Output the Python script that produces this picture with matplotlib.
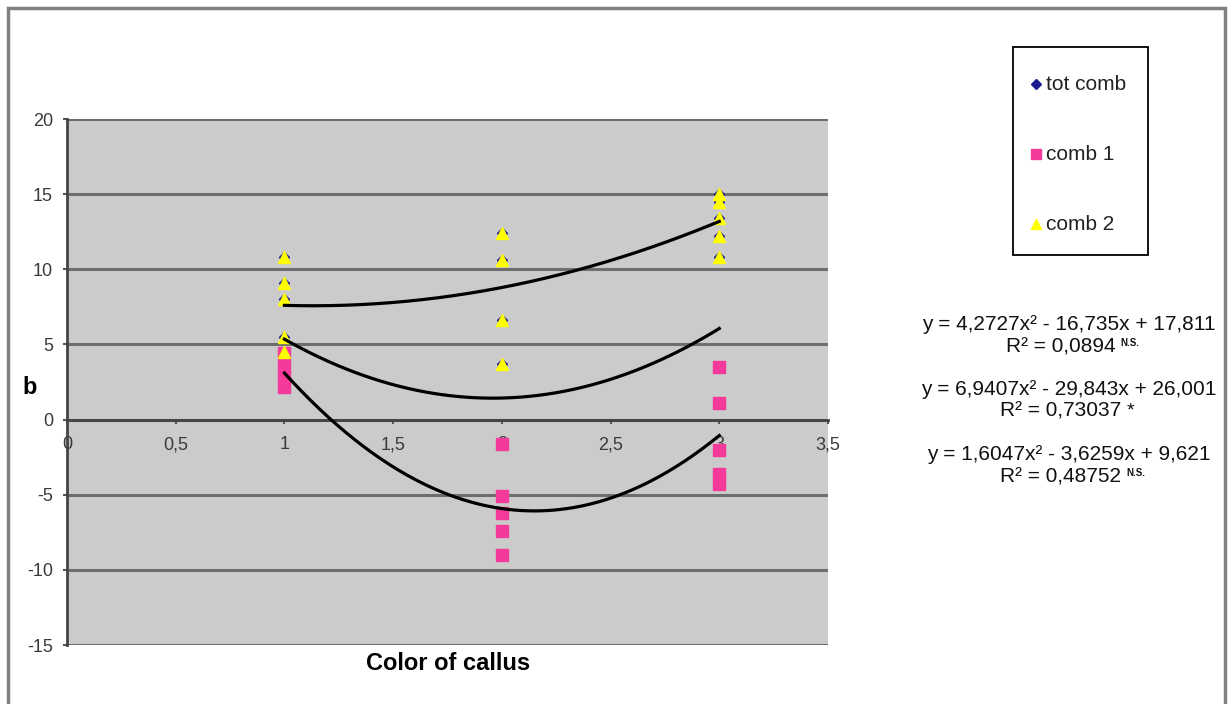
import matplotlib
matplotlib.use("Agg")
import matplotlib.pyplot as plt
import numpy as np
from matplotlib.lines import Line2D
from matplotlib.patches import Rectangle

plt.rcParams['font.family'] = ['Liberation Sans', 'DejaVu Sans']

# ---- data ----
comb1_x = [1, 1, 1, 1, 2, 2, 2, 2, 2, 3, 3, 3, 3, 3]
comb1_y = [4.4, 3.6, 2.9, 2.2, -1.6, -5.1, -6.2, -7.4, -9.0, 3.5, 1.1, -2.0, -3.6, -4.3]
comb2_x = [1, 1, 1, 1, 1, 2, 2, 2, 2, 3, 3, 3, 3, 3]
comb2_y = [10.8, 9.1, 8.0, 5.5, 4.5, 12.4, 10.6, 6.6, 3.7, 15.0, 14.5, 13.4, 12.2, 10.8]
tot_x = comb2_x + comb1_x
tot_y = comb2_y + comb1_y

# trendline coefficients (a, b, c) for y = a x^2 + b x + c
coef_tot = [4.2727, -16.735, 17.811]
coef_c1 = [6.9407, -29.843, 26.001]
coef_c2 = [1.6047, -3.6259, 9.621]

eq_lines = [
    ("y = 4,2727x\u00b2 - 16,735x + 17,811", "R\u00b2 = 0,0894", "N.S."),
    ("y = 6,9407x\u00b2 - 29,843x + 26,001", "R\u00b2 = 0,73037", "*"),
    ("y = 1,6047x\u00b2 - 3,6259x + 9,621", "R\u00b2 = 0,48752", "N.S."),
]

series_labels = ['tot comb', 'comb 1', 'comb 2']
x_ticks = [0, 0.5, 1, 1.5, 2, 2.5, 3, 3.5]
x_labels = ["0", "0,5", "1", "1,5", "2", "2,5", "3", "3,5"]
y_ticks = [-15, -10, -5, 0, 5, 10, 15, 20]

W, H = 1229, 704
fig = plt.figure(figsize=(W / 100, H / 100), dpi=100)
fig.patch.set_facecolor('white')

L, R, T, B = 67, 828, 119, 645
ax = fig.add_axes([L / W, 1 - B / H, (R - L) / W, (B - T) / H])
ax.set_facecolor('#CBCBCB')
ax.set_xlim(0, 3.5)
ax.set_ylim(-15, 20)

for yv in y_ticks:
    ax.axhline(yv, color='#6E6E6E', lw=2.2, zorder=1)

pink = '#F53A9B'
yellow = '#FFFF00'
navy = '#1A1A8C'

ax.plot(tot_x, tot_y, linestyle='none', marker='D', ms=5.5, color=navy,
        mec=navy, zorder=3)
ax.plot(comb1_x, comb1_y, linestyle='none', marker='s', ms=8, color=pink,
        mec=pink, zorder=4)
ax.plot(comb2_x, comb2_y, linestyle='none', marker='^', ms=8.5, color=yellow,
        mec=yellow, zorder=5)

xs = np.linspace(1, 3, 200)
for c in (coef_tot, coef_c1, coef_c2):
    ax.plot(xs, np.polyval(c, xs), color='black', lw=2.3, zorder=6)

# axes styling
for s in ['top', 'right']:
    ax.spines[s].set_visible(False)
ax.spines['left'].set_color('#444444')
ax.spines['left'].set_linewidth(2)
ax.spines['bottom'].set_position(('data', 0))
ax.spines['bottom'].set_color('#444444')
ax.spines['bottom'].set_linewidth(2)
ax.spines['left'].set_zorder(7)

ax.set_xticks(x_ticks)
ax.set_xticklabels(x_labels)
ax.set_yticks(y_ticks)
ax.set_yticklabels([str(v) for v in y_ticks])
ax.tick_params(axis='x', direction='out', length=3, width=1.5, color='#555555',
               labelsize=13, labelcolor='#3A3A3A', pad=9)
ax.tick_params(axis='y', direction='out', length=3, width=1.5, color='#555555',
               labelsize=13, labelcolor='#3A3A3A', pad=7)

fig.text(448 / W, 1 - 664 / H, "Color of callus", fontsize=17, fontweight='bold',
         ha='center', va='center')
fig.text(30 / W, 1 - 388 / H, "b", fontsize=17, fontweight='bold',
         ha='center', va='center')

# legend (drawn as a boxed key)
fig.add_artist(Rectangle((1013 / W, 1 - 255 / H), (1148 - 1013) / W, (255 - 47) / H,
                         transform=fig.transFigure, fill=False, edgecolor='black', lw=1.3))
leg_styles = [('D', 5, navy), ('s', 7.5, pink), ('^', 7.5, yellow)]
leg_y = [85, 155, 225]
for (mk, ms, col), lab, yy in zip(leg_styles, series_labels, leg_y):
    fig.add_artist(Line2D([1036 / W], [1 - (yy - 1) / H], transform=fig.transFigure,
                          linestyle='none', marker=mk, ms=ms, color=col))
    fig.text(1046 / W, 1 - yy / H, lab, fontsize=15, ha='left', va='center', color='#222222')

# equations
eq_y = [(325, 347), (389, 411), (455, 477)]
r2_texts = []
for (eq, r2, sig), (y1, y2) in zip(eq_lines, eq_y):
    fig.text(1069 / W, 1 - y1 / H, eq, fontsize=15, ha='center', va='center', color='#111111')
    t = fig.text(1061 / W, 1 - y2 / H, r2, fontsize=15, ha='center', va='center', color='#111111')
    r2_texts.append((t, sig, y2))

fig.canvas.draw()
rend = fig.canvas.get_renderer()
for t, sig, y2 in r2_texts:
    bb = t.get_window_extent(rend)
    xr = bb.x1 + 5
    if sig == '*':
        fig.text(xr / W, 1 - (y2 - 9) / H, sig, fontsize=14, ha='left', va='top', color='#111111')
    else:
        fig.text(xr / W, 1 - (y2 - 9) / H, sig, fontsize=7, fontweight='bold', ha='left',
                 va='top', color='#111111')

# outer chart border
fig.add_artist(Rectangle((8 / W, -0.05), (1225 - 8) / W, 1 - 8 / H + 0.05,
                         transform=fig.transFigure, fill=False, edgecolor='#808080', lw=2.5))

fig.savefig('out.png', dpi=100)
